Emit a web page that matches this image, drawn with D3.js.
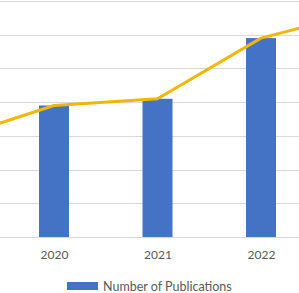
<!DOCTYPE html>
<html>
<head>
<meta charset="utf-8">
<script src="https://cdn.jsdelivr.net/npm/d3@7"></script>
<style>
  body { margin: 0; background: #fff; overflow: hidden; }
  text { font-family: Lato, "Open Sans", sans-serif; fill: #595959; }
</style>
</head>
<body>
<div id="chart"></div>
<script>
// chart data
const years = ['2019', '2020', '2021', '2022', '2023'];
const visibleYears = ['2020', '2021', '2022'];
const publications = [29, 39, 41, 59, 67];
const trend = [29, 39, 41, 59, 67];
const yTicks = [0, 10, 20, 30, 40, 50, 60, 70];
const legendLabel = 'Number of Publications';

// sizes
const width = 299, height = 293;
const barWidth = 30;
const baseY = 237, topY = 1;

const svg = d3.select('#chart')
    .append('svg')
      .attr('width', width)
      .attr('height', height);

// scales (chart is cropped: first and last years fall outside the view)
const xScale = d3.scalePoint()
    .domain(years)
    .range([-101.25, 416.25])
    .padding(0.5);

const yScale = d3.scaleLinear()
    .domain([0, 70])
    .range([baseY, topY]);

// grid
svg.append('g')
    .selectAll('line')
    .data(yTicks)
    .join('line')
      .attr('x1', 0)
      .attr('x2', width)
      .attr('y1', d => Math.round(yScale(d)) + 0.5)
      .attr('y2', d => Math.round(yScale(d)) + 0.5)
      .attr('stroke', '#d9d9d9')
      .attr('stroke-width', 1);

// bars
svg.append('g')
    .selectAll('rect')
    .data(years)
    .join('rect')
      .attr('x', d => xScale(d) - barWidth / 2)
      .attr('y', (d, i) => yScale(publications[i]))
      .attr('width', barWidth)
      .attr('height', (d, i) => baseY - yScale(publications[i]))
      .attr('fill', '#4472c4');

// line
const line = d3.line()
    .x((d, i) => xScale(years[i]))
    .y(d => yScale(d));

svg.append('path')
    .datum(trend)
    .attr('d', line)
    .attr('fill', 'none')
    .attr('stroke', '#f2b705')
    .attr('stroke-width', 3)
    .attr('stroke-linejoin', 'round');

// x axis labels (only the years inside the view)
const xAxis = d3.axisBottom(xScale).tickValues(visibleYears).tickSize(0).tickPadding(0);
const xAxisG = svg.append('g')
    .attr('transform', `translate(0,${baseY})`)
    .call(xAxis);
xAxisG.select('.domain').remove();
xAxisG.selectAll('text')
    .attr('y', 22)
    .attr('dy', 0)
    .style('font-size', '12px')
    .attr('fill', '#595959');

// legend
const legend = svg.append('g').attr('transform', 'translate(67,282)');
legend.append('rect')
    .attr('width', 31)
    .attr('height', 8)
    .attr('fill', '#4472c4');
legend.append('text')
    .attr('x', 36)
    .attr('y', 8.5)
    .style('font-size', '12.5px')
    .text(legendLabel);
</script>
</body>
</html>
